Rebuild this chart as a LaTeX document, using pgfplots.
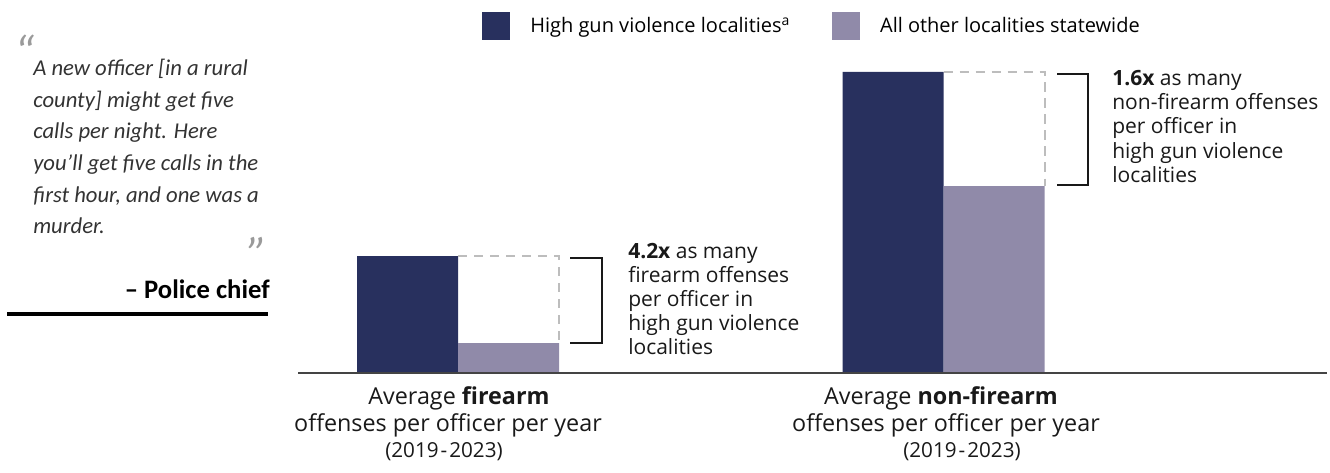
\documentclass[border=0pt]{standalone}
\usepackage{fontspec}
\setmainfont{Open Sans}
\newfontfamily\qfont{Carlito}
\usepackage{pgfplots}
\pgfplotsset{compat=1.18}
\definecolor{navy}{HTML}{28305E}
\definecolor{lav}{HTML}{908AA9}
\definecolor{dashg}{HTML}{BDBDBD}
\definecolor{axg}{HTML}{444444}
\definecolor{qgray}{HTML}{9A9A9A}
\definecolor{qtext}{HTML}{333333}
\begin{document}
\begin{tikzpicture}
\begin{axis}[
  scale only axis, width=997.5pt, height=354pt,
  xmin=0, xmax=1330, ymin=-99, ymax=373,
  hide axis, clip=false,
  ybar=0pt, bar width=75.75pt,
  legend columns=2,
  legend style={at={(axis cs:482,361)}, anchor=north west, draw=none, fill=none,
    inner sep=0pt, font=\fontsize{15}{18}\selectfont,
    /tikz/every even column/.append style={column sep=31.5pt},
    nodes={inner sep=0pt, anchor=west}},
  legend image code/.code={\fill[#1] (0pt,-10.5pt) rectangle (21pt,10.5pt);},
]
\addplot[fill=navy, draw=none] coordinates {(458,117) (943.5,301)};
\addlegendentry{\hspace{15pt}High gun violence localities\textsuperscript{a}}
\addplot[fill=lav, draw=none] coordinates {(458,30) (943.5,187)};
\addlegendentry{\hspace{15pt}All other localities statewide}

% baseline
\draw[axg, line width=1.5pt] (axis cs:298,0) -- (axis cs:1327,0);
% dashed outlines
\draw[dashg, line width=1.4pt, dash pattern=on 7pt off 5pt] (axis cs:458,117) -- (axis cs:559,117) -- (axis cs:559,30);
\draw[dashg, line width=1.4pt, dash pattern=on 7pt off 5pt] (axis cs:943.5,301) -- (axis cs:1045,301) -- (axis cs:1045,187);
% brackets
\draw[black!90, line width=1.8pt] (axis cs:570,115) -- (axis cs:602,115) -- (axis cs:602,30) -- (axis cs:570,30);
\draw[black!90, line width=1.8pt] (axis cs:1057,299) -- (axis cs:1088,299) -- (axis cs:1088,188) -- (axis cs:1057,188);

% annotations
\begin{scope}[every node/.style={anchor=base west, inner sep=0pt, font=\fontsize{15.75}{18}\selectfont, text=black!90}]
\node at (axis cs:628,115) {\textbf{4.2x} as many};
\node at (axis cs:628,91) {firearm offenses};
\node at (axis cs:628,67) {per officer in};
\node at (axis cs:628,43) {high gun violence};
\node at (axis cs:628,19) {localities};
\node at (axis cs:1112,287) {\textbf{1.6x} as many};
\node at (axis cs:1112,263) {non-firearm offenses};
\node at (axis cs:1112,239) {per officer in};
\node at (axis cs:1112,215) {high gun violence};
\node at (axis cs:1112,191) {localities};
\end{scope}

% category labels
\begin{scope}[every node/.style={anchor=base, inner sep=0pt, font=\fontsize{17.5}{20}\selectfont, text=black!90}]
\node at (axis cs:459,-31) {Average \textbf{firearm}};
\node at (axis cs:448,-58) {offenses per officer per year};
\node at (axis cs:444,-84) {\fontsize{15.5}{18}\selectfont(2019\kern1.5pt-\kern1.5pt2023)};
\node at (axis cs:941,-31) {Average \textbf{non-firearm}};
\node at (axis cs:946,-58) {offenses per officer per year};
\node at (axis cs:962,-84) {\fontsize{15.5}{18}\selectfont(2019\kern1.5pt-\kern1.5pt2023)};
\end{scope}

% quote
\begin{scope}[every node/.style={anchor=base west, inner sep=0pt, font=\qfont\itshape\fontsize{17}{20}\selectfont, text=qtext}]
\node at (axis cs:33,297) {A new officer [in a rural};
\node at (axis cs:33,265) {county] might get five};
\node at (axis cs:33,234) {calls per night. Here};
\node at (axis cs:33,202) {you’ll get five calls in the};
\node at (axis cs:33,171) {first hour, and one was a};
\node at (axis cs:33,140) {murder.};
\end{scope}
\node[anchor=north west, inner sep=0pt, text=qgray, font=\qfont\itshape\fontsize{36}{36}\selectfont] at (axis cs:14,338) {“};
\node[anchor=north east, inner sep=0pt, text=qgray, font=\qfont\itshape\fontsize{36}{36}\selectfont] at (axis cs:268,136) {”};
\node[anchor=base east, inner sep=0pt, font=\qfont\bfseries\fontsize{20}{24}\selectfont] at (axis cs:270,75) {– Police chief};
\draw[black, line width=3pt] (axis cs:7,59) -- (axis cs:268,59);

\path (rel axis cs:0,0) rectangle (rel axis cs:1,1);
\end{axis}
\end{tikzpicture}
\end{document}
